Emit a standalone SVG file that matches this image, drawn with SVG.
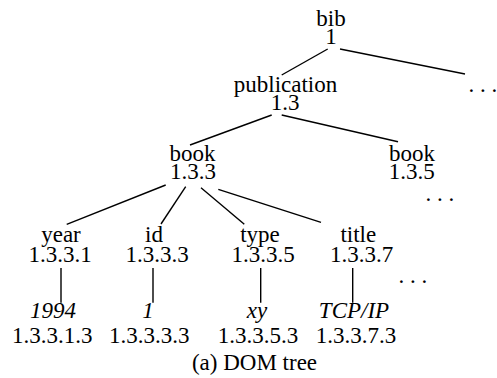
<svg xmlns="http://www.w3.org/2000/svg" width="497" height="378" viewBox="0 0 497 378">
  <style>
    text { font-family: 'Liberation Serif', 'Times New Roman', serif; font-size: 23px; fill: #000; text-anchor: middle; }
    .it { font-style: italic; }
    .dots { text-anchor: start; }
    #connectors line { stroke: #000; stroke-width: 1.4; stroke-linecap: butt; }
  </style>
  <rect width="497" height="378" fill="#fff"/>

  <!-- tree edges -->
  <g id="connectors">
    <line x1="327.7" y1="49" x2="281.7" y2="75"/>
    <line x1="340" y1="49" x2="465" y2="74"/>
    <line x1="271.7" y1="115" x2="190" y2="145"/>
    <line x1="281.7" y1="115" x2="398" y2="141.7"/>
    <line x1="165.7" y1="185" x2="66.7" y2="224.3"/>
    <line x1="185.7" y1="186.7" x2="161" y2="224"/>
    <line x1="201" y1="187.7" x2="244.3" y2="224.3"/>
    <line x1="218.3" y1="189.3" x2="321" y2="222.3"/>
    <line x1="61" y1="268" x2="61" y2="302.7"/>
    <line x1="153" y1="268" x2="153" y2="302.7"/>
    <line x1="260.7" y1="268" x2="260.7" y2="302.7"/>
    <line x1="352.7" y1="268" x2="352.7" y2="302.7"/>
  </g>

  <!-- element nodes: tag name over Dewey label -->
  <g id="bib"><text x="331" y="26">bib</text><text x="331" y="43.5">1</text></g>
  <g id="publication"><text x="285.5" y="91.7">publication</text><text x="285" y="109.5">1.3</text></g>
  <g id="book-133"><text x="192.5" y="160.5">book</text><text x="193" y="179">1.3.3</text></g>
  <g id="book-135"><text x="412" y="160.5">book</text><text x="411.7" y="179">1.3.5</text></g>
  <g id="year"><text x="61" y="242">year</text><text x="60" y="262">1.3.3.1</text></g>
  <g id="id"><text x="154" y="242">id</text><text x="157" y="262">1.3.3.3</text></g>
  <g id="type"><text x="260" y="242">type</text><text x="263" y="262">1.3.3.5</text></g>
  <g id="title"><text x="358.3" y="242">title</text><text x="361.7" y="262">1.3.3.7</text></g>

  <!-- text nodes -->
  <g id="year-value"><text class="it" x="53" y="318.3">1994</text><text x="52.2" y="343">1.3.3.1.3</text></g>
  <g id="id-value"><text class="it" x="148" y="318.3">1</text><text x="149.2" y="343">1.3.3.3.3</text></g>
  <g id="type-value"><text class="it" x="257" y="318.3">xy</text><text x="258" y="343">1.3.3.5.3</text></g>
  <g id="title-value"><text class="it" x="354" y="318.3">TCP/IP</text><text x="356" y="343">1.3.3.7.3</text></g>

  <!-- elided siblings -->
  <g id="more-bib"><text class="dots" x="468.5 480 491.5" y="92">...</text></g>
  <g id="more-publication"><text class="dots" x="425.5 437 448.5" y="201">...</text></g>
  <g id="more-book"><text class="dots" x="398.5 410 421.5" y="283">...</text></g>

  <text x="254.5" y="370">(a) DOM tree</text>
</svg>
